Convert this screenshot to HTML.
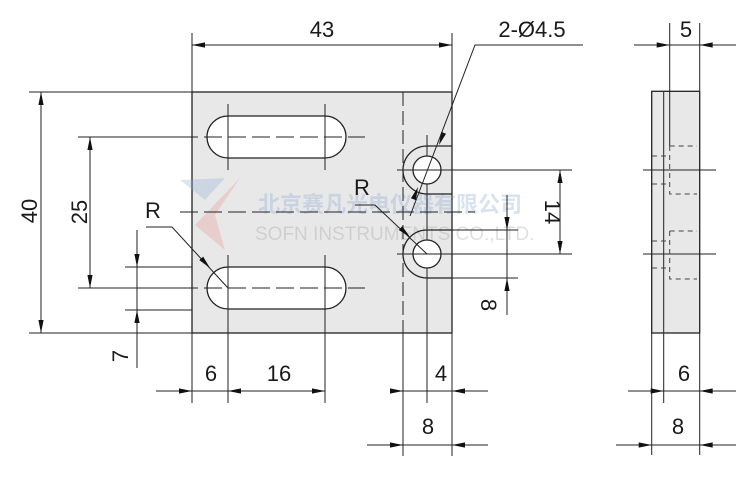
<!DOCTYPE html>
<html><head><meta charset="utf-8"><style>
html,body{margin:0;padding:0;background:#fff}
svg{display:block}
text{font-family:"Liberation Sans","Noto Sans CJK SC",sans-serif;font-size:22px;fill:#1a1a1a}
</style></head><body>
<svg width="750" height="497" viewBox="0 0 750 497" xmlns="http://www.w3.org/2000/svg">
<defs><path id="a" d="M0,0 L-13,-2.6 L-13,2.6Z" fill="#111"/></defs>
<rect x="192" y="92" width="260" height="241" fill="#e8e8e8" stroke="#222" stroke-width="1.3"/>
<g opacity="0.3">
<path d="M180,180 L225,178 L205,200 Z" fill="#8fb0d8"/>
<path d="M240,178 L215,215 L225,250 L195,225 Z" fill="#e89090"/>
<text x="258" y="212" style="font-size:22px;fill:#7fa2d0;font-weight:bold">北京赛凡光电仪器有限公司</text>
<text x="255" y="240" style="font-size:19px;fill:#999">SOFN INSTRUMENTS CO.,LTD.</text>
</g>
<g stroke="#222" stroke-width="1" fill="none">
<path d="M228,116 H325 A21,21 0 0 1 325,158 H228 A21,21 0 0 1 228,116 Z" fill="#fff" stroke-width="1.3"/>
<path d="M228,267 H325 A21,21 0 0 1 325,309 H228 A21,21 0 0 1 228,267 Z" fill="#fff" stroke-width="1.3"/>
<path d="M180,137 H365 M180,288 H365 M180,212 H475" stroke-dasharray="18,6"/>
<path d="M228,104 V170 M325,104 V170 M228,255 V403 M325,255 V403"/>
<path d="M403,92 V333" stroke-dasharray="14,5"/>
<path d="M403,333 V456 M452,333 V456 M427,135 V403"/>
<path d="M452,146 H427 A24,24 0 0 0 427,194 H452" stroke-width="1.3"/>
<path d="M452,230 H427 A24,24 0 0 0 427,278 H452" stroke-width="1.3"/>
<circle cx="427" cy="170" r="14" fill="#fff" stroke-width="1.3"/>
<circle cx="427" cy="254" r="14" fill="#fff" stroke-width="1.3"/>
<path d="M397,170 H572 M397,254 H572 M452,230 H518 M452,278 H518"/>
<path d="M192,33 V92 M452,33 V92 M192,45 H452"/>
<path d="M29,92 H192 M29,333 H192 M41,92 V333"/>
<path d="M78,137 H192 M78,288 H192 M90,137 V288"/>
<path d="M125,267 H192 M125,310 H192 M137,230 V368"/>
<path d="M192,333 V403 M156,391 H325 M391,391 H488 M367,445 H488"/>
<path d="M560,170 V254 M507,195 V315"/>
<path d="M146,227 H172 L228,288"/>
<path d="M355,205 H375 L427,254"/>
<path d="M583,45 H475 L410,216"/>
<rect x="651.7" y="91.3" width="48" height="241.7" fill="#e8e8e8" stroke-width="1.3"/>
<path d="M663.7,91.3 V333 M669.7,23 V146 M699.7,23 V91"/>
<path d="M651.7,333 V455 M699.7,333 V455 M663.7,333 V403"/>
<path d="M634,45 H736 M628,391 H736 M616,445 H736"/>
<path d="M643,170 H716 M643,254 H716"/>
<path d="M669.7,146 H697 M669.7,146 V194 H697 M669.7,231 H697 M669.7,231 V279 H697 M652,156 H667 M652,184 H667 M652,241 H667 M652,268 H667" stroke-dasharray="5,4" stroke="#444"/>
</g>
<use href="#a" transform="translate(192,45) rotate(180)"/><use href="#a" transform="translate(452,45)"/>
<use href="#a" transform="translate(41,92) rotate(-90)"/><use href="#a" transform="translate(41,333) rotate(90)"/>
<use href="#a" transform="translate(90,137) rotate(-90)"/><use href="#a" transform="translate(90,288) rotate(90)"/>
<use href="#a" transform="translate(137,267) rotate(90)"/><use href="#a" transform="translate(137,310) rotate(-90)"/>
<use href="#a" transform="translate(192,391)"/><use href="#a" transform="translate(228,391) rotate(180)"/><use href="#a" transform="translate(325,391)"/>
<use href="#a" transform="translate(403,391)"/><use href="#a" transform="translate(452,391) rotate(180)"/>
<use href="#a" transform="translate(403,445)"/><use href="#a" transform="translate(452,445) rotate(180)"/>
<use href="#a" transform="translate(560,170) rotate(-90)"/><use href="#a" transform="translate(560,254) rotate(90)"/>
<use href="#a" transform="translate(507,230) rotate(90)"/><use href="#a" transform="translate(507,278) rotate(-90)"/>
<use href="#a" transform="translate(669.7,45)"/><use href="#a" transform="translate(699.7,45) rotate(180)"/>
<use href="#a" transform="translate(663.7,391)"/><use href="#a" transform="translate(699.7,391) rotate(180)"/>
<use href="#a" transform="translate(651.7,445)"/><use href="#a" transform="translate(699.7,445) rotate(180)"/>
<use href="#a" transform="translate(210,268) rotate(47.5)"/>
<use href="#a" transform="translate(410,237) rotate(43)"/>
<use href="#a" transform="translate(439,145) rotate(110.8)"/>
<use href="#a" transform="translate(418,187) rotate(-69.2)"/>
<text x="322" y="37" text-anchor="middle">43</text>
<text x="532" y="37" text-anchor="middle">2-Ø4.5</text>
<text x="686" y="37" text-anchor="middle">5</text>
<text transform="translate(37,211) rotate(-90)" text-anchor="middle">40</text>
<text transform="translate(87,212) rotate(-90)" text-anchor="middle">25</text>
<text transform="translate(128,356) rotate(-90)" text-anchor="middle">7</text>
<text transform="translate(545,212) rotate(90)" text-anchor="middle">14</text>
<text transform="translate(481,305) rotate(90)" text-anchor="middle">8</text>
<text x="153" y="218" text-anchor="middle">R</text>
<text x="362" y="195" text-anchor="middle">R</text>
<text x="211" y="381" text-anchor="middle">6</text>
<text x="279" y="381" text-anchor="middle">16</text>
<text x="441" y="381" text-anchor="middle">4</text>
<text x="428" y="434" text-anchor="middle">8</text>
<text x="684" y="381" text-anchor="middle">6</text>
<text x="678" y="434" text-anchor="middle">8</text>
</svg>
</body></html>
